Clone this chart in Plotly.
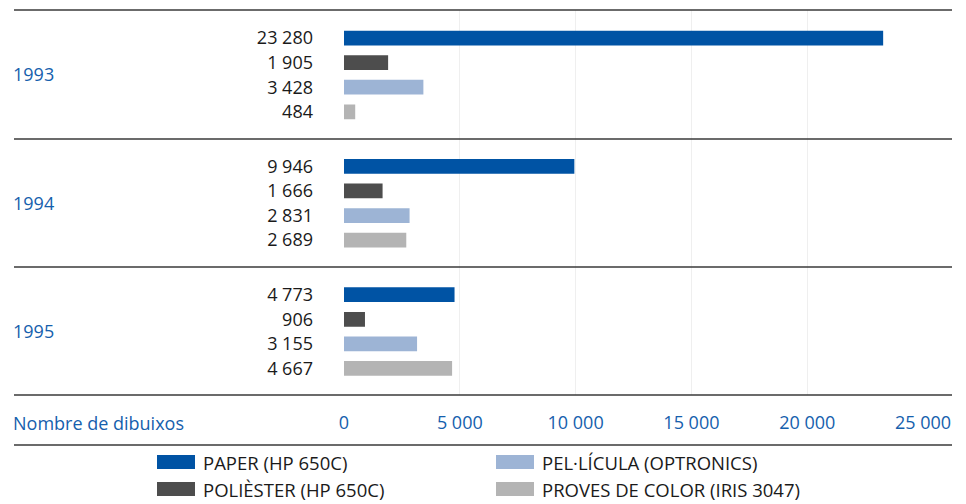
import plotly.graph_objects as go
from plotly.subplots import make_subplots

years = ["1993", "1994", "1995"]
series = ["PAPER (HP 650C)", "POLIÈSTER (HP 650C)", "PEL·LÍCULA (OPTRONICS)", "PROVES DE COLOR (IRIS 3047)"]
paper = [23280, 9946, 4773]
poliester = [1905, 1666, 906]
pellicula = [3428, 2831, 3155]
proves = [484, 2689, 4667]
x_ticks = [0, 5000, 10000, 15000, 20000, 25000]
x_title = "Nombre de dibuixos"

colors = ["#0053a4", "#4d4d4d", "#9db4d5", "#b4b4b4"]
blue_txt = "#1560ad"
font = "Open Sans"
fsize = 18

# the page body has an 8px margin, so the figure starts at (8, 8)
OFF = 8
W, H = 966 - OFF, 504 - OFF
L, R, T, B = 344 - OFF, 966 - 923, 10 - OFF, 504 - 395
pw, ph = W - L - R, H - T - B


def px_x(px):
    return (px - OFF - L) / pw


def px_y(py):
    return (H - B - (py - OFF)) / ph


def fmt(v):
    return f"{v:,}".replace(",", " ")


fig = make_subplots(rows=3, cols=1, shared_xaxes=True, vertical_spacing=0)

for i, year in enumerate(years):
    vals = [paper[i], poliester[i], pellicula[i], proves[i]]
    fig.add_trace(go.Bar(x=vals, y=series, orientation="h", width=0.6,
                         marker=dict(color=colors, line=dict(width=0)),
                         showlegend=False, hovertemplate="%{y}: %{x}<extra>" + year + "</extra>"),
                  row=i + 1, col=1)
    fig.update_yaxes(type="category", categoryorder="array", categoryarray=series,
                     tickvals=series, ticktext=[fmt(v) for v in vals],
                     range=[4.08, -1.14], ticklabelstandoff=30, showgrid=False,
                     tickfont=dict(family=font, size=fsize, color="#1a1a1a"),
                     row=i + 1, col=1)
    yname = "y" if i == 0 else f"y{i + 1}"
    fig.add_annotation(text=year, xref="paper", yref=yname + " domain", x=px_x(11), y=0.5,
                       xanchor="left", yanchor="middle", showarrow=False,
                       font=dict(family=font, size=fsize, color=blue_txt))

fig.update_xaxes(range=[0, 25000], tickvals=x_ticks, tickformat=",d", showgrid=True,
                 gridcolor="#efefef", gridwidth=1, zeroline=False, showline=False)
fig.update_xaxes(tickfont=dict(family=font, size=fsize, color=blue_txt), ticklabelstandoff=15,
                 row=3, col=1)

fig.add_annotation(text=x_title, xref="paper", yref="paper", x=px_x(11), y=px_y(423),
                   xanchor="left", yanchor="middle", showarrow=False,
                   font=dict(family=font, size=fsize, color=blue_txt))

# separator lines
for py in [10, 139, 267, 395, 445]:
    fig.add_shape(type="line", xref="paper", yref="paper", x0=px_x(14), x1=px_x(952),
                  y0=px_y(py), y1=px_y(py), line=dict(color="#3a3a3a", width=1.5))

# legend in two columns
leg_pos = [(157, 462), (157, 489), (496, 462), (496, 489)]
for name, c, (lx, ly) in zip(series, colors, leg_pos):
    fig.add_shape(type="rect", xref="paper", yref="paper", x0=px_x(lx), x1=px_x(lx + 38),
                  y0=px_y(ly + 7), y1=px_y(ly - 7), fillcolor=c, line=dict(width=0))
    fig.add_annotation(text=name, xref="paper", yref="paper", x=px_x(lx + 44), y=px_y(ly),
                       xanchor="left", yanchor="middle", showarrow=False,
                       font=dict(family=font, size=18.5, color="#1a1a1a"))

fig.update_layout(width=W, height=H, margin=dict(l=L, r=R, t=T, b=B),
                  plot_bgcolor="white", paper_bgcolor="white", separators=", ",
                  font=dict(family=font, size=fsize))

fig.write_html("out.html")
